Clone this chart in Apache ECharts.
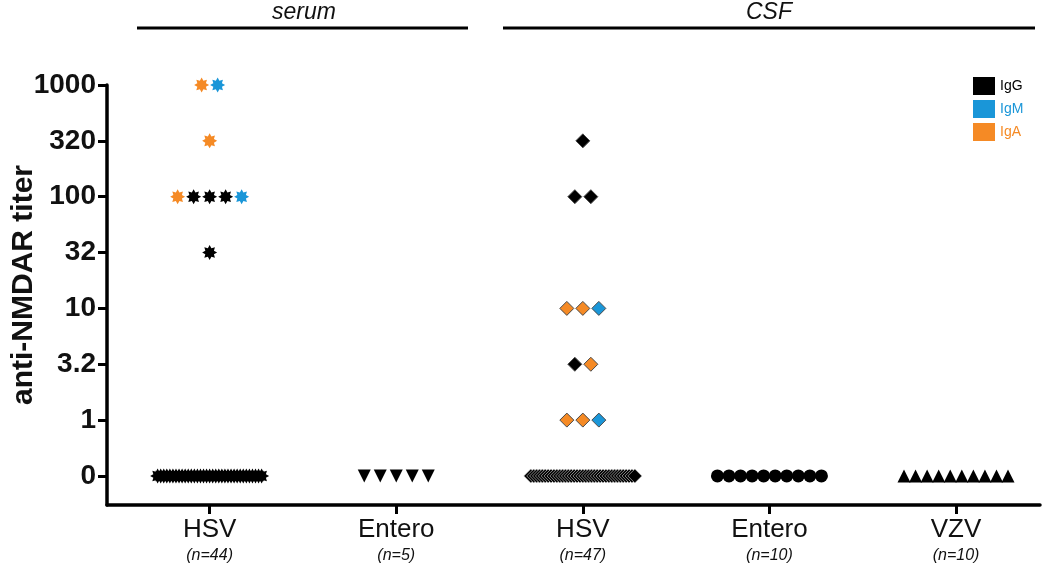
<!DOCTYPE html>
<html>
<head>
<meta charset="utf-8">
<script src="https://cdn.jsdelivr.net/npm/echarts@6/dist/echarts.min.js"></script>
<style>html,body{margin:0;padding:0;background:#fff;}#c{width:1050px;height:585px;}</style>
</head>
<body>
<div id="c"></div>
<script>
// ---------- data ----------
const groupNames = ['HSV', 'Entero', 'HSV', 'Entero', 'VZV'];
const groupN = [44, 5, 47, 10, 10];
const titerLabels = ['0', '1', '3.2', '10', '32', '100', '320', '1000'];
const isotypeNames = ['IgG', 'IgM', 'IgA'];
const isotypeColors = ['#000000', '#1a96d8', '#f58a25'];

// serum HSV
const serumHSVTiter = ['1000','1000','320','100','100','100','100','100','32',
  '0','0','0','0','0','0','0','0','0','0','0','0','0','0','0','0','0','0',
  '0','0','0','0','0','0','0','0','0','0','0','0','0','0','0','0','0'];
const serumHSVIso = ['IgA','IgM','IgA','IgA','IgG','IgG','IgG','IgM','IgG',
  'IgG','IgG','IgG','IgG','IgG','IgG','IgG','IgG','IgG','IgG','IgG','IgG','IgG','IgG','IgG','IgG','IgG','IgG',
  'IgG','IgG','IgG','IgG','IgG','IgG','IgG','IgG','IgG','IgG','IgG','IgG','IgG','IgG','IgG','IgG','IgG'];
// serum Entero
const serumEnteroTiter = ['0','0','0','0','0'];
const serumEnteroIso = ['IgG','IgG','IgG','IgG','IgG'];
// CSF HSV
const csfHSVTiter = ['320','100','100','10','10','10','3.2','3.2','1','1','1',
  '0','0','0','0','0','0','0','0','0','0','0','0','0','0','0','0','0','0',
  '0','0','0','0','0','0','0','0','0','0','0','0','0','0','0','0','0','0','0'];
const csfHSVIso = ['IgG','IgG','IgG','IgA','IgA','IgM','IgG','IgA','IgA','IgA','IgM',
  'IgG','IgG','IgG','IgG','IgG','IgG','IgG','IgG','IgG','IgG','IgG','IgG','IgG','IgG','IgG','IgG','IgG','IgG',
  'IgG','IgG','IgG','IgG','IgG','IgG','IgG','IgG','IgG','IgG','IgG','IgG','IgG','IgG','IgG','IgG','IgG','IgG','IgG'];
// CSF Entero
const csfEnteroTiter = ['0','0','0','0','0','0','0','0','0','0'];
const csfEnteroIso = ['IgG','IgG','IgG','IgG','IgG','IgG','IgG','IgG','IgG','IgG'];
// CSF VZV
const csfVZVTiter = ['0','0','0','0','0','0','0','0','0','0'];
const csfVZVIso = ['IgG','IgG','IgG','IgG','IgG','IgG','IgG','IgG','IgG','IgG'];

// ---------- styling / layout ----------
const FONT = '"Liberation Sans", Arial, Helvetica, sans-serif';
function starPath(n, inner) {
  let d = '';
  for (let i = 0; i < n * 2; i++) {
    const a = i * Math.PI / n - Math.PI / 2;
    const r = (i % 2 === 0) ? 50 : 50 * inner;
    const x = (50 + r * Math.cos(a)).toFixed(2), y = (50 + r * Math.sin(a)).toFixed(2);
    d += (i === 0 ? 'M' : 'L') + x + ' ' + y + ' ';
  }
  return 'path://' + d + 'Z';
}
const STAR = starPath(8, 0.62);

const groupDefs = [
  { titer: serumHSVTiter, iso: serumHSVIso, symbol: STAR, size: 15, rotate: 0, border: null },
  { titer: serumEnteroTiter, iso: serumEnteroIso, symbol: 'triangle', size: 13, rotate: 180, border: null },
  { titer: csfHSVTiter, iso: csfHSVIso, symbol: 'diamond', size: 14, rotate: 0, border: '#4a4a4a' },
  { titer: csfEnteroTiter, iso: csfEnteroIso, symbol: 'circle', size: 13, rotate: 0, border: null },
  { titer: csfVZVTiter, iso: csfVZVIso, symbol: 'triangle', size: 13, rotate: 0, border: null }
];
const STEP_PX = 16, SPREAD_PX = 104;

function buildSeries(g, gi) {
  const rows = {};
  g.titer.forEach((t, i) => { (rows[t] = rows[t] || []).push(g.iso[i]); });
  const data = [];
  Object.keys(rows).forEach(t => {
    const list = rows[t];
    const k = list.length;
    const step = k > 1 ? Math.min(STEP_PX, SPREAD_PX / (k - 1)) : 0;
    list.forEach((iso, j) => {
      const off = (j - (k - 1) / 2) * step;
      const ci = isotypeNames.indexOf(iso);
      const item = {
        value: [gi, titerLabels.indexOf(t)],
        symbolOffset: [off, 0],
        itemStyle: { color: isotypeColors[ci], opacity: 1 }
      };
      if (g.border) {
        item.itemStyle.borderColor = (t === '0') ? '#bbbbbb' : g.border;
        item.itemStyle.borderWidth = (t === '0') ? 0.7 : 1;
      }
      data.push(item);
    });
  });
  return {
    type: 'scatter',
    symbol: g.symbol,
    symbolSize: g.size,
    symbolRotate: g.rotate,
    itemStyle: { opacity: 1 },
    data: data,
    silent: true,
    z: 3
  };
}

const series = groupDefs.map(buildSeries);
isotypeNames.forEach((n, i) => {
  series.push({ type: 'scatter', name: n, data: [], itemStyle: { color: isotypeColors[i], opacity: 1 } });
});

const chart = echarts.init(document.getElementById('c'), null, { renderer: 'canvas' });
chart.setOption({
  animation: false,
  backgroundColor: '#ffffff',
  textStyle: { fontFamily: FONT },
  grid: { left: 107, right: 10, top: 85, bottom: 80 },
  legend: {
    orient: 'vertical',
    left: 968, top: 72,
    icon: 'rect',
    itemWidth: 22, itemHeight: 18, itemGap: 5,
    textStyle: { fontSize: 14, fontFamily: FONT },
    data: isotypeNames.map((n, i) => ({ name: n, textStyle: { color: isotypeColors[i] } }))
  },
  xAxis: {
    type: 'value',
    min: -0.55, max: 4.45,
    splitLine: { show: false },
    axisLine: { onZero: false, lineStyle: { color: '#000', width: 3.5 } },
    axisTick: { show: true, customValues: [0, 1, 2, 3, 4], length: 9, lineStyle: { color: '#000', width: 3 } },
    axisLabel: {
      customValues: [0, 1, 2, 3, 4],
      margin: 10,
      formatter: v => '{a|' + groupNames[v] + '}\n{b|(n=' + groupN[v] + ')}',
      rich: {
        a: { fontSize: 26, color: '#111', lineHeight: 30, fontFamily: FONT },
        b: { fontSize: 16, fontStyle: 'italic', color: '#111', lineHeight: 22, fontFamily: FONT }
      }
    }
  },
  yAxis: {
    type: 'value',
    min: -0.52, max: 7,
    splitLine: { show: false },
    axisLine: { onZero: false, lineStyle: { color: '#000', width: 3.5 } },
    axisTick: { show: true, customValues: [0, 1, 2, 3, 4, 5, 6, 7], length: 9, lineStyle: { color: '#000', width: 3 } },
    axisLabel: {
      customValues: [0, 1, 2, 3, 4, 5, 6, 7],
      margin: 11,
      formatter: v => titerLabels[v],
      fontSize: 28, fontWeight: 'bold', color: '#111', fontFamily: FONT
    }
  },
  graphic: [
    { type: 'text', x: 24, y: 285, rotation: Math.PI / 2,
      style: { text: 'anti-NMDAR titer', font: 'bold 30px ' + FONT, fill: '#111', textAlign: 'center', textVerticalAlign: 'middle' } },
    { type: 'text', x: 304, y: 13,
      style: { text: 'serum', font: 'italic 23px ' + FONT, fill: '#111', textAlign: 'center', textVerticalAlign: 'middle' } },
    { type: 'text', x: 769, y: 13,
      style: { text: 'CSF', font: 'italic 23px ' + FONT, fill: '#111', textAlign: 'center', textVerticalAlign: 'middle' } },
    { type: 'line', shape: { x1: 137, y1: 28, x2: 468, y2: 28 }, style: { stroke: '#000', lineWidth: 3 } },
    { type: 'line', shape: { x1: 503, y1: 28, x2: 1035, y2: 28 }, style: { stroke: '#000', lineWidth: 3 } }
  ],
  series: series
});
</script>
</body>
</html>
